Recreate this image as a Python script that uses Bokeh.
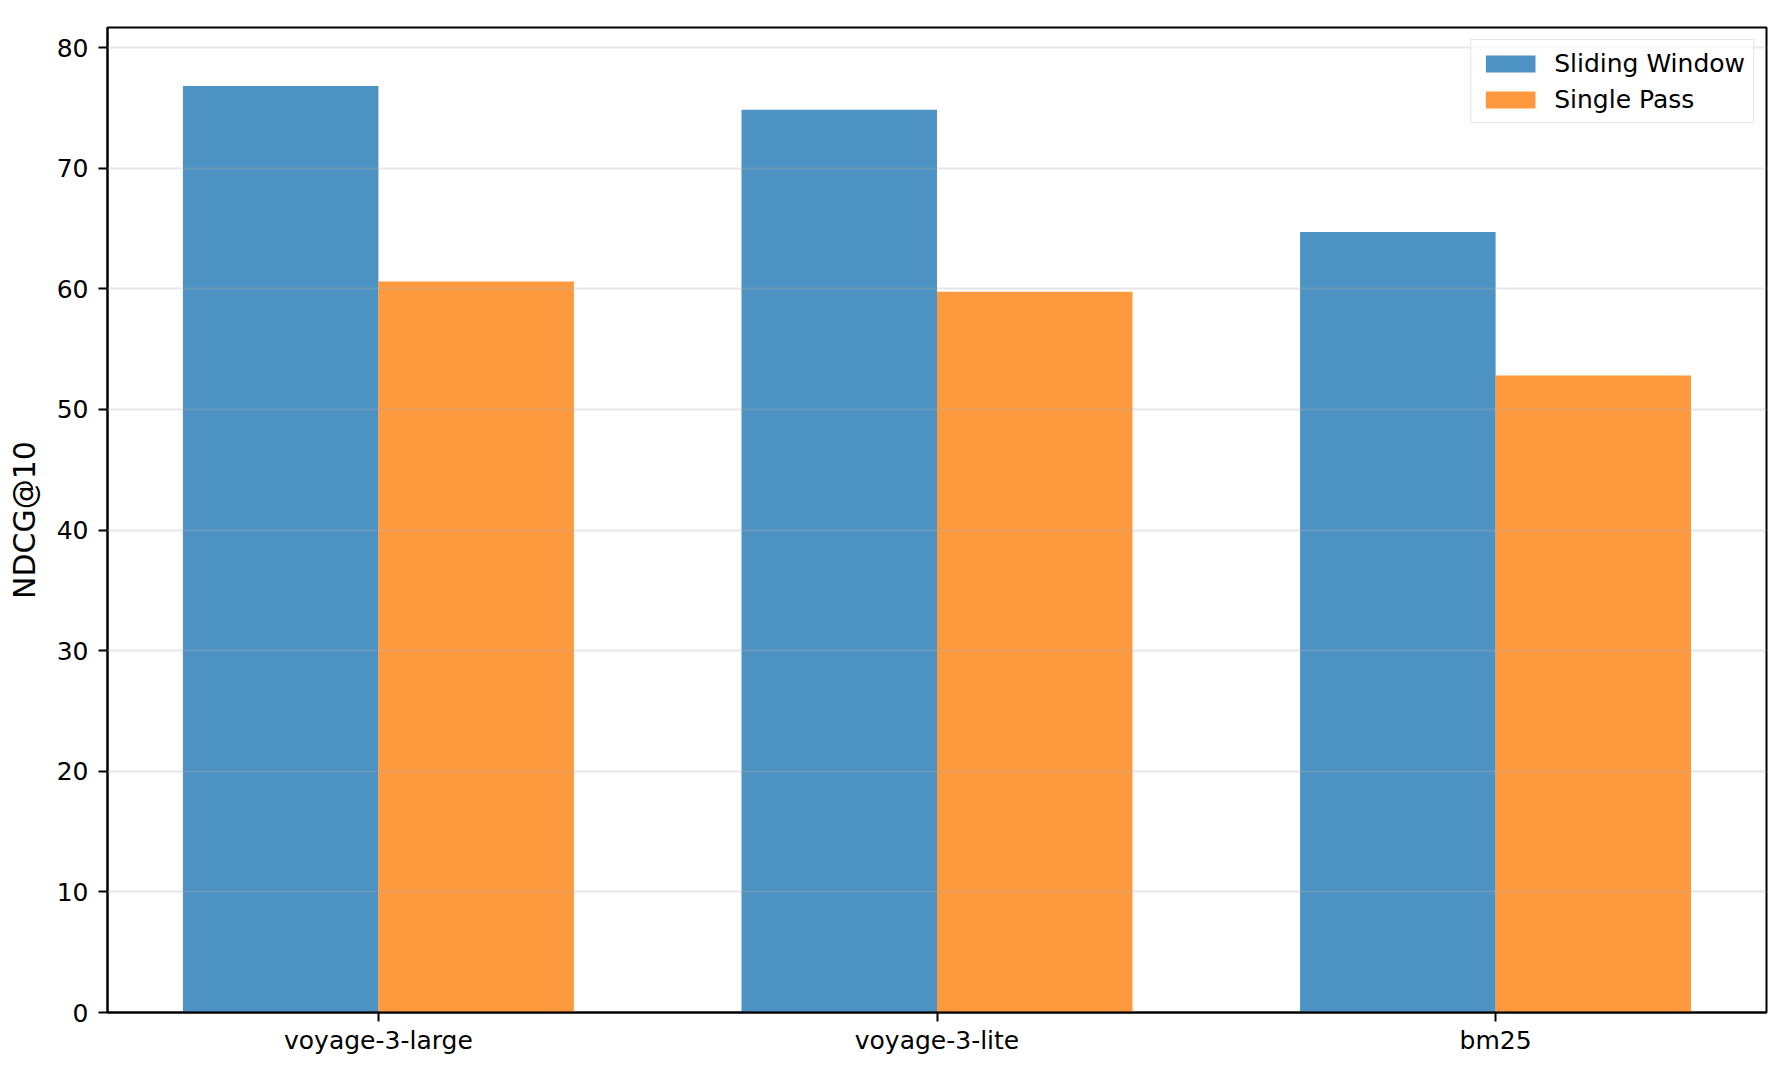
from bokeh.plotting import figure
from bokeh.models import ColumnDataSource, Range1d, FixedTicker
from bokeh.transform import dodge
from bokeh.embed import file_html
from bokeh.resources import INLINE

categories = ["voyage-3-large", "voyage-3-lite", "bm25"]
sliding_window = [76.8, 74.85, 64.7]
single_pass = [60.6, 59.75, 52.8]
y_ticks = [0, 10, 20, 30, 40, 50, 60, 70, 80]

FONT = "DejaVu Sans"
bar_w = 0.35

src = ColumnDataSource(dict(
    idx=list(range(len(categories))),
    sw=sliding_window,
    sp=single_pass,
))

p = figure(
    frame_width=1659, frame_height=985,
    min_border_left=107, min_border_right=9, min_border_top=27, min_border_bottom=50,
    x_range=Range1d(-0.485, len(categories) - 1 + 0.485),
    y_range=Range1d(0, 81.66),
    output_backend="svg", toolbar_location=None,
    background_fill_color="white", border_fill_color="white",
)

p.vbar(x=dodge("idx", -bar_w / 2, range=p.x_range), top="sw", width=bar_w, source=src,
       fill_color="#1f77b4", fill_alpha=0.8, line_color=None, legend_label="Sliding Window")
p.vbar(x=dodge("idx", bar_w / 2, range=p.x_range), top="sp", width=bar_w, source=src,
       fill_color="#ff7f0e", fill_alpha=0.8, line_color=None, legend_label="Single Pass")

# axes
p.xaxis.ticker = FixedTicker(ticks=list(range(len(categories))))
p.xaxis.major_label_overrides = {i: c for i, c in enumerate(categories)}
p.yaxis.ticker = FixedTicker(ticks=y_ticks)
p.yaxis.axis_label = "NDCG@10"

for ax in (p.xaxis, p.yaxis):
    ax.axis_line_color = "black"
    ax.axis_line_width = 2
    ax.major_tick_line_color = "black"
    ax.major_tick_line_width = 2
    ax.major_tick_out = 9
    ax.major_tick_in = 0
    ax.minor_tick_line_color = None
    ax.major_label_text_font = FONT
    ax.major_label_text_font_size = "25px"
    ax.major_label_text_color = "black"
    ax.axis_label_text_font = FONT
    ax.axis_label_text_font_size = "30px"
    ax.axis_label_text_font_style = "normal"
    ax.axis_label_text_color = "black"

p.xaxis.major_label_standoff = 4
p.yaxis.major_label_standoff = 10
p.yaxis.axis_label_standoff = 12

p.outline_line_color = "black"
p.outline_line_width = 2
p.outline_line_alpha = 1

p.xgrid.grid_line_color = None
p.ygrid.grid_line_color = "#b0b0b0"
p.ygrid.grid_line_alpha = 0.3
p.ygrid.grid_line_width = 1.8
p.ygrid.level = "overlay"

# legend
lg = p.legend[0]
lg.location = "top_right"
lg.margin = 12
lg.padding = 8
lg.spacing = 6
lg.label_text_font = FONT
lg.label_text_font_size = "25px"
lg.label_text_color = "black"
lg.label_height = 30
lg.glyph_width = 62
lg.glyph_height = 21
lg.label_standoff = 13
lg.border_line_color = "#cccccc"
lg.border_line_width = 1.5
lg.background_fill_color = "white"
lg.background_fill_alpha = 0.8

open("out.html", "w").write(file_html(p, INLINE))
